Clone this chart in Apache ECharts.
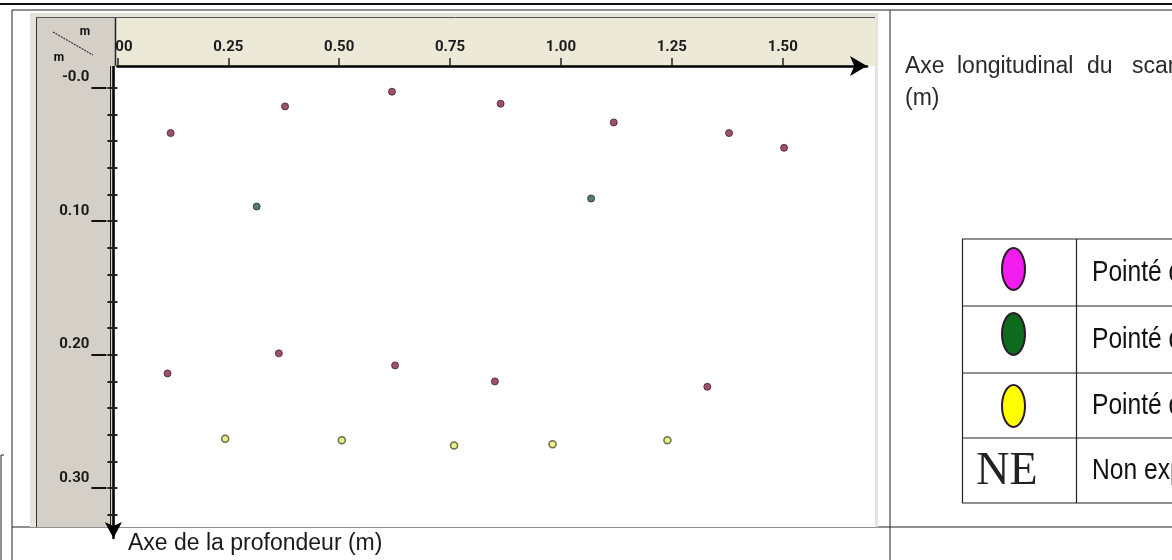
<!DOCTYPE html>
<html>
<head>
<meta charset="utf-8">
<script src="https://cdn.jsdelivr.net/npm/echarts@6/dist/echarts.min.js"></script>
<style>html,body{margin:0;padding:0;background:#fff}#c{width:1172px;height:560px}</style>
</head>
<body>
<div id="c"></div>
<script>
// ---- data ----
const xTicks = [0, 0.25, 0.5, 0.75, 1.0, 1.25, 1.5];
const yMajorTicks = [0, 0.1, 0.2, 0.3];
const yMinorTicks = [0, 0.02, 0.04, 0.06, 0.08, 0.1, 0.12, 0.14, 0.16, 0.18, 0.2, 0.22, 0.24, 0.26, 0.28, 0.3, 0.32];
const pinkPoints = [[0.120,0.034],[0.378,0.014],[0.619,0.003],[0.864,0.012],[1.119,0.026],[1.379,0.034],[1.503,0.045],
                    [0.113,0.214],[0.364,0.199],[0.626,0.208],[0.851,0.220],[1.330,0.224]];
const greenPoints = [[0.314,0.089],[1.068,0.083]];
const yellowPoints = [[0.243,0.263],[0.506,0.264],[0.759,0.268],[0.981,0.267],[1.240,0.264]];
const legendLabels = ['Pointé de', 'Pointé de', 'Pointé de', 'Non exploité'];
const xTitleWords = ['Axe', 'longitudinal', 'du', 'scan'];
const xTitleUnit = '(m)';
const yTitle = 'Axe de la profondeur (m)';

const SANS = "'Liberation Sans',Arial,sans-serif";

const chart = echarts.init(document.getElementById('c'), null, {renderer: 'canvas'});

const tickLbl = {fontFamily: 'Roboto', fontWeight: 'bold', fontSize: 15, color: '#1a1a1a'};

const g = [];
// top frame lines
g.push({type:'line', z:-5, shape:{x1:0,y1:4,x2:1172,y2:4}, style:{stroke:'#111',lineWidth:2}});
g.push({type:'line', z:-5, shape:{x1:12,y1:10,x2:1172,y2:10}, style:{stroke:'#222',lineWidth:1}});
g.push({type:'line', z:-5, shape:{x1:12,y1:10,x2:12,y2:560}, style:{stroke:'#222',lineWidth:1}});
g.push({type:'line', z:-5, shape:{x1:890,y1:10,x2:890,y2:560}, style:{stroke:'#222',lineWidth:1}});
g.push({type:'line', z:-5, shape:{x1:12,y1:527,x2:1172,y2:527}, style:{stroke:'#222',lineWidth:1}});
g.push({type:'polyline', z:-5, shape:{points:[[1,560],[1,455],[4,455]]}, style:{stroke:'#222',lineWidth:1,fill:null}});
// 3D light border + left gray panel
g.push({type:'rect', z:-4, shape:{x:30,y:13,width:848,height:514}, style:{fill:'#e6e3dc'}});
g.push({type:'rect', z:-4, shape:{x:37,y:17,width:78,height:510}, style:{fill:'#d4d0c8'}});
g.push({type:'line', z:-3, shape:{x1:36.5,y1:17,x2:36.5,y2:527}, style:{stroke:'#333',lineWidth:1}});
// top beige bar
g.push({type:'rect', z:-4, shape:{x:115,y:17,width:760,height:49}, style:{fill:'#ece9d8'}});
g.push({type:'line', z:-3, shape:{x1:36,y1:17.5,x2:875,y2:17.5}, style:{stroke:'#555',lineWidth:1}});
// plot white area
g.push({type:'rect', z:-4, shape:{x:115,y:66,width:760,height:461}, style:{fill:'#ffffff'}});
g.push({type:'line', z:-3, shape:{x1:110.5,y1:66,x2:110.5,y2:527}, style:{stroke:'#222',lineWidth:1}});
// corner box (above axis labels)
g.push({type:'rect', z:50, shape:{x:37,y:18,width:78.5,height:48}, style:{fill:'#d4d0c8'}});
g.push({type:'line', z:50, shape:{x1:36.5,y1:18,x2:36.5,y2:66}, style:{stroke:'#333',lineWidth:1}});
g.push({type:'line', z:50, shape:{x1:115.5,y1:18,x2:115.5,y2:66}, style:{stroke:'#222',lineWidth:1.5}});
g.push({type:'line', z:51, shape:{x1:53,y1:32,x2:93,y2:55}, style:{stroke:'#333',lineWidth:1.2,lineDash:[2,1]}});
g.push({type:'text', z:51, x:85, y:32, style:{text:'m', font:"bold 12px Roboto", fill:'#111', align:'center', verticalAlign:'middle'}});
g.push({type:'text', z:51, x:59, y:58, style:{text:'m', font:"bold 12px Roboto", fill:'#111', align:'center', verticalAlign:'middle'}});
// x axis title words (justified)
const wordX = [905, 957, 1087, 1132];
xTitleWords.forEach((w,i)=>g.push({type:'text', z:5, x:wordX[i], y:67, style:{text:w, font:"23px "+SANS, fill:'#2a2a2a', align:'left', verticalAlign:'middle'}}));
g.push({type:'text', z:5, x:905, y:99, style:{text:xTitleUnit, font:"23px "+SANS, fill:'#2a2a2a', align:'left', verticalAlign:'middle'}});
// y axis title
g.push({type:'text', z:5, x:128, y:544, style:{text:yTitle, font:"23px "+SANS, fill:'#1a1a1a', align:'left', verticalAlign:'middle'}});
// legend table
const rowsY = [239, 306, 373, 438, 503];
g.push({type:'rect', z:5, shape:{x:962.5,y:239,width:220,height:264}, style:{fill:null, stroke:'#222', lineWidth:1.2}});
rowsY.slice(1,4).forEach(y=>g.push({type:'line', z:5, shape:{x1:962.5,y1:y,x2:1172,y2:y}, style:{stroke:'#222',lineWidth:1.2}}));
g.push({type:'line', z:5, shape:{x1:1076.5,y1:239,x2:1076.5,y2:503}, style:{stroke:'#222',lineWidth:1.2}});
const ellColors = ['#f21cf0', '#0d6b1e', '#ffff00'];
const ellCy = [269, 334, 406];
ellColors.forEach((c,i)=>g.push({type:'ellipse', z:6, shape:{cx:1013.5, cy:ellCy[i], rx:11.5, ry:21}, style:{fill:c, stroke:'#2a1a2a', lineWidth:2}}));
g.push({type:'text', z:6, x:1007, y:472, style:{text:'NE', font:"46px 'Liberation Serif','Times New Roman',serif", fill:'#222', align:'center', verticalAlign:'middle'}});
legendLabels.forEach((t,i)=>g.push({type:'text', z:6, x:1092, y:(rowsY[i]+rowsY[i+1])/2, scaleX:0.82,
  style:{text:t, font:"30px "+SANS, fill:'#111', align:'left', verticalAlign:'middle'}}));

const mk = {symbol:'circle', symbolSize:7};
const Y_MIN = -0.01625, Y_MAX = 0.3373;
chart.setOption({
  animation:false,
  backgroundColor:'#ffffff',
  grid:{left:117.4, right:305, top:66, bottom:22, outerBoundsMode:'none'},
  xAxis:{type:'value', position:'top', min:0, max:1.690,
    axisLine:{show:true, onZero:false, lineStyle:{color:'#000', width:2.5}, symbol:['none','arrow'], symbolSize:[15,17]},
    axisTick:{show:true, length:8, customValues:xTicks, lineStyle:{color:'#222', width:1.5}},
    axisLabel:Object.assign({margin:11, customValues:xTicks, formatter:v=>v.toFixed(2)}, tickLbl),
    splitLine:{show:false}},
  yAxis:[
    {type:'value', inverse:true, min:Y_MIN, max:Y_MAX, position:'left', offset:4,
      axisLine:{show:true, onZero:false, lineStyle:{color:'#000', width:2.5}, symbol:['arrow','none'], symbolSize:[13,16]},
      axisTick:{show:false}, axisLabel:{show:false}, splitLine:{show:false}},
    {type:'value', inverse:true, min:Y_MIN, max:Y_MAX, position:'left', offset:9,
      axisLine:{show:false}, axisTick:{show:true, length:10, customValues:yMinorTicks, lineStyle:{color:'#222', width:2}},
      axisLabel:{show:false}, splitLine:{show:false}},
    {type:'value', inverse:true, min:Y_MIN, max:Y_MAX, position:'left', offset:11,
      axisLine:{show:false}, axisTick:{show:true, length:15, customValues:yMajorTicks, lineStyle:{color:'#111', width:2}},
      axisLabel:Object.assign({margin:17, customValues:yMajorTicks, verticalAlign:'bottom', lineHeight:14, padding:[0,0,3,0],
        formatter:v=>(v===0?'-0.0':v.toFixed(2))}, tickLbl),
      splitLine:{show:false}}
  ],
  graphic:{elements:g},
  series:[
    Object.assign({type:'scatter', name:'pink', data:pinkPoints, yAxisIndex:0,
      itemStyle:{color:'#822848', borderColor:'#4a1a2e', borderWidth:1}}, mk),
    Object.assign({type:'scatter', name:'green', data:greenPoints, yAxisIndex:0,
      itemStyle:{color:'#2f5a4c', borderColor:'#1a2e28', borderWidth:1}}, mk),
    Object.assign({type:'scatter', name:'yellow', data:yellowPoints, yAxisIndex:0,
      itemStyle:{color:'#e6ee6a', borderColor:'#4a4a30', borderWidth:1.5}}, mk)
  ]
});
</script>
</body>
</html>
